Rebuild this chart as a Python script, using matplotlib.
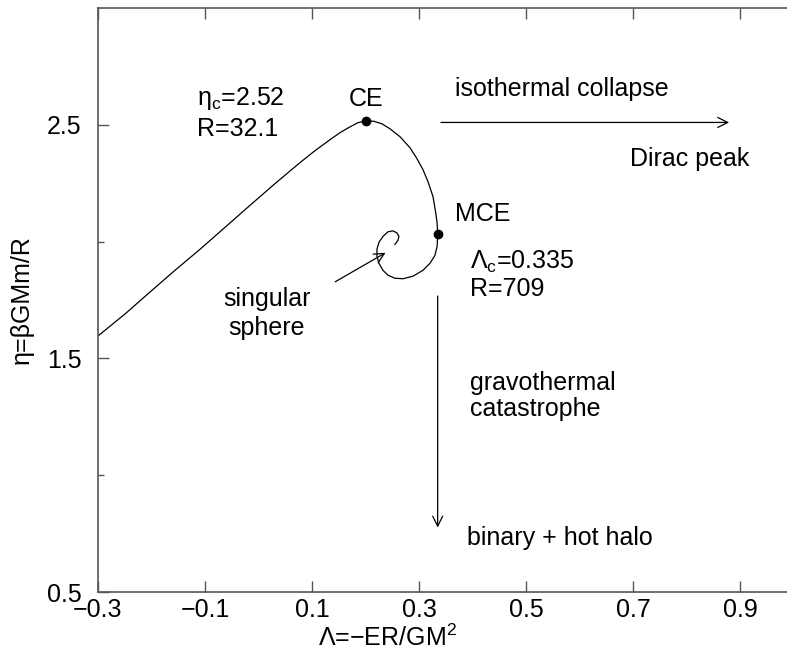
import matplotlib
matplotlib.use("Agg")
import matplotlib.pyplot as plt

plt.rcParams["font.family"] = ["Liberation Sans", "DejaVu Sans"]
plt.rcParams["mathtext.fontset"] = "custom"
plt.rcParams["mathtext.rm"] = "Liberation Sans"
plt.rcParams["mathtext.it"] = "Liberation Sans:italic"
plt.rcParams["font.size"] = 18

# caloric curve of the isothermal sphere (spiral into the singular sphere)
lam = [-0.3000, -0.2495, -0.2028, -0.1561, -0.1093, -0.0626, -0.0159, 0.0308,
       0.0776, 0.1056, 0.1336, 0.1523, 0.1710, 0.1860, 0.2009, 0.2159,
       0.2308, 0.2458, 0.2645, 0.2832, 0.2963, 0.3075, 0.3168, 0.3262,
       0.3310, 0.3340, 0.3350, 0.3340, 0.3299, 0.3206, 0.3075, 0.2888,
       0.2701, 0.2551, 0.2421, 0.2327, 0.2252, 0.2215, 0.2215, 0.2252,
       0.2327, 0.2421, 0.2514, 0.2589, 0.2626, 0.2607, 0.2551]
eta = [1.596, 1.690, 1.784, 1.877, 1.967, 2.061, 2.155, 2.248,
       2.338, 2.389, 2.436, 2.466, 2.491, 2.509, 2.517, 2.515,
       2.504, 2.483, 2.449, 2.402, 2.355, 2.308, 2.257, 2.193,
       2.129, 2.078, 2.031, 1.980, 1.941, 1.907, 1.877, 1.852,
       1.841, 1.843, 1.856, 1.877, 1.907, 1.937, 1.967, 1.997,
       2.022, 2.042, 2.046, 2.037, 2.022, 2.005, 1.988]

# critical points
ce_lam, ce_eta = 0.201, 2.517
mce_lam, mce_eta = 0.335, 2.031

xticks = [-0.3, -0.1, 0.1, 0.3, 0.5, 0.7, 0.9]
yticks = [0.5, 1.5, 2.5]
yminor = [1.0, 2.0]

fig = plt.figure(figsize=(7.87, 6.54), dpi=100)
ax = fig.add_axes([0.1245, 0.0948, 0.8755, 0.893])

ax.plot(lam, eta, color="black", lw=0.9)
ax.plot([ce_lam, mce_lam], [ce_eta, mce_eta], "o", color="black", ms=6)

arrow = dict(arrowstyle="->", color="black", lw=0.9, mutation_scale=18)
ax.annotate("", xy=(0.885, 2.51), xytext=(0.336, 2.51), arrowprops=arrow)
ax.annotate("", xy=(mce_lam, 0.764), xytext=(mce_lam, 1.779), arrowprops=arrow)
ax.annotate("", xy=(0.242, 1.958), xytext=(0.139, 1.822), arrowprops=arrow)

txt = dict(fontsize=18, va="center")
ax.text(-0.115, 2.611, r"η$_\mathregular{c}$=2.52", **txt)
ax.text(-0.115, 2.483, "R=32.1", **txt)
ax.text(ce_lam, 2.611, "CE", ha="center", **txt)
ax.text(0.367, 2.654, "isothermal collapse", **txt)
ax.text(0.694, 2.355, "Dirac peak", **txt)
ax.text(0.367, 2.120, "MCE", **txt)
ax.text(0.395, 1.912, r"Λ$_\mathregular{c}$=0.335", **txt)
ax.text(0.395, 1.796, "R=709", **txt)
ax.text(0.395, 1.396, "gravothermal", **txt)
ax.text(0.395, 1.285, "catastrophe", **txt)
ax.text(0.390, 0.730, "binary + hot halo", **txt)
ax.text(0.016, 1.754, "singular", ha="center", **txt)
ax.text(0.016, 1.630, "sphere", ha="center", **txt)

ax.set_xlim(-0.3, 0.988)
ax.set_ylim(0.5, 3.0)
ax.set_xticks(xticks)
ax.set_xticklabels([f"{v:.1f}".replace("-", "\u2212") for v in xticks])
ax.set_yticks(yticks)
ax.set_yticks(yminor, minor=True)
ax.tick_params(direction="in", length=8, width=1, color="#555555",
               labelsize=18, top=True)
ax.tick_params(axis="x", pad=4)
ax.tick_params(axis="y", pad=12)
ax.tick_params(which="minor", direction="in", length=4, width=1, color="#555555")
ax.spines["right"].set_visible(False)
for s in ("left", "bottom", "top"):
    ax.spines[s].set_color("#555555")
    ax.spines[s].set_linewidth(1.2)

ax.set_xlabel(r"Λ=−ER/GM$^\mathregular{2}$", fontsize=18)
ax.xaxis.set_label_coords(0.42, -0.056)
ax.set_ylabel("η=βGMm/R", fontsize=18)
ax.yaxis.set_label_coords(-0.094, 0.50)

fig.savefig("out.png", dpi=100)
